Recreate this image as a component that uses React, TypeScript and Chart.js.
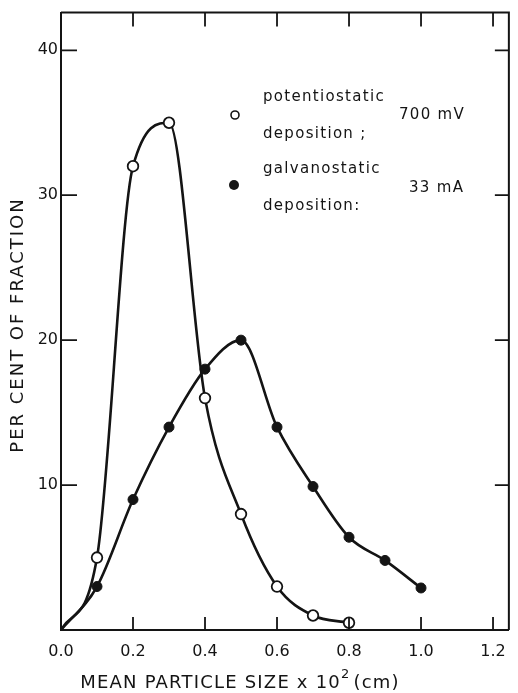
import React, { useEffect, useRef } from 'react';
import { Chart, registerables } from 'chart.js';

Chart.register(...registerables);

// ---- data ----
const sizes = [0.0, 0.1, 0.2, 0.3, 0.4, 0.5, 0.6, 0.7, 0.8, 0.9, 1.0];
const potentiostatic = [0, 5, 32, 35, 16, 8, 3, 1, 0.5];
const galvanostatic = [0, 3, 9, 14, 18, 20, 14, 9.9, 6.4, 4.8, 2.9];
const xTickValues = [0.2, 0.4, 0.6, 0.8, 1.0, 1.2];
const yTickValues = [10, 20, 30, 40];
const xMax = 1.244;
const yMax = 42.6;
const xTitleMain = 'MEAN PARTICLE SIZE x 10';
const xTitleSup = '2';
const xTitleEnd = '(cm)';
const yTitle = 'PER CENT OF FRACTION';
const legendOpen = ['potentiostatic', 'deposition ;', '700 mV'];
const legendFilled = ['galvanostatic', 'deposition:', '33 mA'];

const FONT = '"DejaVu Sans", sans-serif';
const INK = '#141414';

const framePlugin = {
  id: 'framePlugin',
  afterDatasetsDraw(chart: any) {
    const { ctx, chartArea, scales } = chart;
    const { left, right, top, bottom } = chartArea;
    ctx.save();
    ctx.strokeStyle = INK;
    ctx.lineWidth = 2;
    ctx.beginPath();
    ctx.moveTo(left, top);
    ctx.lineTo(right, top);
    ctx.lineTo(right, bottom);
    ctx.stroke();
    ctx.lineWidth = 1.8;
    ctx.beginPath();
    xTickValues.forEach((v) => {
      const px = scales.x.getPixelForValue(v);
      ctx.moveTo(px, bottom);
      ctx.lineTo(px, bottom - 13);
      ctx.moveTo(px, top);
      ctx.lineTo(px, top + 14);
    });
    yTickValues.forEach((v) => {
      const py = scales.y.getPixelForValue(v);
      ctx.moveTo(left, py);
      ctx.lineTo(left + 16, py);
      ctx.moveTo(right, py);
      ctx.lineTo(right - 14, py);
    });
    ctx.stroke();
    ctx.restore();
  },
};

const textPlugin = {
  id: 'textPlugin',
  afterDraw(chart: any) {
    const { ctx } = chart;
    ctx.save();
    ctx.fillStyle = INK;
    ctx.textBaseline = 'middle';

    // y-axis title
    ctx.save();
    ctx.font = `18px ${FONT}`;
    (ctx as any).letterSpacing = '2px';
    ctx.translate(18, 325);
    ctx.rotate(-Math.PI / 2);
    ctx.textAlign = 'center';
    ctx.fillText(yTitle, 0, 0);
    ctx.restore();

    // x-axis title with superscript
    ctx.save();
    ctx.textAlign = 'left';
    (ctx as any).letterSpacing = '1.2px';
    ctx.font = `18px ${FONT}`;
    const wMain = ctx.measureText(xTitleMain).width;
    const wEnd = ctx.measureText(xTitleEnd).width;
    ctx.font = `13px ${FONT}`;
    const wSup = ctx.measureText(xTitleSup).width;
    const total = wMain + wSup + 3 + wEnd;
    let x0 = 240 - total / 2;
    const yMid = 683;
    ctx.font = `18px ${FONT}`;
    ctx.fillText(xTitleMain, x0, yMid);
    x0 += wMain;
    ctx.font = `13px ${FONT}`;
    ctx.fillText(xTitleSup, x0, yMid - 8);
    x0 += wSup + 3;
    ctx.font = `18px ${FONT}`;
    ctx.fillText(xTitleEnd, x0, yMid);
    ctx.restore();

    // legend
    ctx.save();
    ctx.font = `15px ${FONT}`;
    (ctx as any).letterSpacing = '1.3px';
    ctx.textAlign = 'left';
    ctx.fillText(legendOpen[0], 263, 97);
    ctx.fillText(legendOpen[1], 263, 134);
    ctx.fillText(legendOpen[2], 399, 115);
    ctx.fillText(legendFilled[0], 263, 169);
    ctx.fillText(legendFilled[1], 263, 206);
    ctx.fillText(legendFilled[2], 409, 188);
    ctx.lineWidth = 1.6;
    ctx.strokeStyle = INK;
    ctx.beginPath();
    ctx.arc(235, 115, 4, 0, Math.PI * 2);
    ctx.fillStyle = '#fff';
    ctx.fill();
    ctx.stroke();
    ctx.beginPath();
    ctx.arc(234, 185, 5, 0, Math.PI * 2);
    ctx.fillStyle = INK;
    ctx.fill();
    ctx.restore();

    ctx.restore();
  },
};

export default function App() {
  const ref = useRef<HTMLCanvasElement | null>(null);

  useEffect(() => {
    if (!ref.current) return;
    const chart = new Chart(ref.current, {
      type: 'line',
      data: {
        datasets: [
          {
            label: 'galvanostatic deposition; 33 mA',
            data: galvanostatic.map((y, i) => ({ x: sizes[i], y })),
            borderColor: INK,
            borderWidth: 2.6,
            cubicInterpolationMode: 'monotone',
            pointRadius: (c: any) => (c.dataIndex === 0 ? 0 : 5),
            pointBackgroundColor: INK,
            pointBorderColor: INK,
            pointBorderWidth: 1,
            fill: false,
          },
          {
            label: 'potentiostatic deposition; 700 mV',
            data: potentiostatic.map((y, i) => ({ x: sizes[i], y })),
            borderColor: INK,
            borderWidth: 2.6,
            cubicInterpolationMode: 'monotone',
            pointRadius: (c: any) => (c.dataIndex === 0 ? 0 : 5.3),
            pointBackgroundColor: '#fff',
            pointBorderColor: INK,
            pointBorderWidth: 1.8,
            fill: false,
          },
        ],
      },
      options: {
        responsive: false,
        animation: false,
        devicePixelRatio: 1,
        layout: { padding: { top: 12, right: 6, left: 0, bottom: 0 } },
        plugins: {
          legend: { display: false },
          tooltip: { enabled: false },
        },
        scales: {
          x: {
            type: 'linear',
            min: 0,
            max: xMax,
            afterFit: (s: any) => {
              s.height = 63;
            },
            ticks: {
              stepSize: 0.2,
              includeBounds: false,
              padding: 12,
              color: INK,
              font: { family: FONT, size: 16 },
              callback: (v: any) => Number(v).toFixed(1),
              maxRotation: 0,
            },
            grid: { drawOnChartArea: false, drawTicks: false },
            border: { display: true, color: INK, width: 2 },
          },
          y: {
            type: 'linear',
            min: 0,
            max: yMax,
            afterFit: (s: any) => {
              s.width = 61;
            },
            ticks: {
              stepSize: 10,
              includeBounds: false,
              padding: 3,
              color: INK,
              font: { family: FONT, size: 16 },
              callback: (v: any) => (Number(v) === 0 ? '' : String(v)),
            },
            grid: { drawOnChartArea: false, drawTicks: false },
            border: { display: true, color: INK, width: 2 },
          },
        },
      },
      plugins: [framePlugin, textPlugin],
    } as any);
    return () => chart.destroy();
  }, []);

  return (
    <div style={{ position: 'fixed', left: 0, top: 0, width: 518, height: 693, background: '#fff' }}>
      <canvas ref={ref} width={518} height={693} style={{ display: 'block' }} />
    </div>
  );
}
